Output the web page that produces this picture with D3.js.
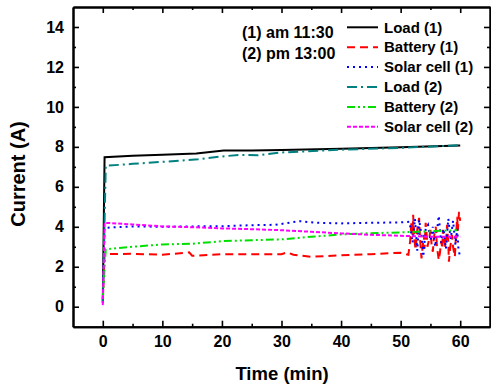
<!DOCTYPE html>
<html><head><meta charset="utf-8">
<script src="https://cdn.jsdelivr.net/npm/d3@7"></script>
<style>
body{margin:0;background:#fff;}
text{font-family:"Liberation Sans",Arial,sans-serif;font-weight:bold;fill:#000;}
</style></head>
<body><svg id="c" width="491" height="386"></svg>
<script>
// ---- data ----
const seriesNames = ["Load (1)","Battery (1)","Solar cell (1)","Load (2)","Battery (2)","Solar cell (2)"];
const xTicks = [0,10,20,30,40,50,60];
const yTicks = [0,2,4,6,8,10,12,14];
const annotations = ["(1) am 11:30","(2) pm 13:00"];

const load1 = [[0,0.3],[0.3,7.48],[5,7.55],[10,7.6],[15.7,7.67],[20.3,7.82],[25,7.82],[30,7.84],[40,7.9],[50,7.98],[60,8.07]];
const battery1 = [[0,0.3],[0.3,2.63],[5,2.65],[10,2.6],[14.5,2.72],[15,2.55],[20,2.63],[25,2.63],[30,2.63],[31,2.72],[32,2.6],[35,2.5],[40,2.57],[45,2.63],[50,2.7],[51.3,2.6],
  [51.6,3.3],[51.8,4.2],[52.0,3.6],[52.1,4.6],[52.3,3.4],[52.5,2.85],[52.8,3.9],[53.1,4.45],[53.3,3.2],[53.5,2.42],[53.7,3.0],[53.9,3.6],[54.0,2.9],[54.2,4.2],[54.4,3.5],[54.5,3.0],[54.8,3.4],[55,3.85],[55.2,3.1],[55.4,2.75],[55.6,3.5],[55.9,4.0],[56.1,3.0],[56.4,2.33],[56.6,2.7],[56.8,3.3],[57.0,2.9],[57.1,3.85],[57.3,3.4],[57.5,3.0],[57.7,3.6],[57.8,4.1],[58.0,3.2],[58.1,2.25],[58.3,2.9],[58.6,3.6],[58.8,3.0],[59.1,2.5],[59.3,3.6],[59.5,4.5],[59.6,3.8],[59.8,4.75],[60,4.3]];
const solar1 = [[0,0.2],[0.3,3.95],[5,4.02],[10,4.0],[15,4.02],[20,4.03],[25,4.08],[29,4.1],[33,4.28],[36,4.2],[40,4.17],[45,4.2],[50,4.22],[51.5,4.25],
  [52,3.2],[52.4,4.4],[52.8,2.8],[53.1,4.35],[53.5,3.6],[53.8,2.5],[54.2,3.9],[54.6,4.1],[55,3.3],[55.4,4.0],[55.8,3.0],[56.4,4.55],[56.8,3.2],[57.2,3.9],[57.6,2.9],[58,4.4],[58.4,3.4],[58.8,4.3],[59.2,3.1],[59.5,3.9],[59.7,2.9],[60,2.45]];
const load2 = [[0,0.2],[0.5,7.05],[5,7.15],[10,7.25],[16,7.38],[20,7.52],[23,7.6],[26,7.58],[30,7.72],[40,7.86],[50,7.95],[60,8.08]];
const battery2 = [[0,0.4],[0.5,2.88],[5,3.0],[10,3.12],[15,3.15],[20,3.28],[25,3.33],[30,3.37],[35,3.5],[40,3.62],[45,3.68],[50,3.72],[55,3.78],[59.5,3.83]];
const solar2 = [[0,0.08],[0.3,4.2],[5,4.12],[10,4.02],[15,3.98],[20,3.92],[25,3.88],[30,3.83],[35,3.75],[40,3.67],[45,3.6],[50,3.55],[55,3.5],[60,3.5]];

const seriesData = [load1,battery1,solar1,load2,battery2,solar2];
const colors = ["#000000","#ff0000","#0000ff","#008080","#00e000","#ff00ff"];
const dashes = ["none","8,5","2,4","10,4,2,4","8,3,2,3,2,3","4,2"];

// ---- layout ----
const svg = d3.select("#c");
const L=73, R=490, T=7, B=326.7;
const x = d3.scaleLinear().domain([-5,65]).range([L,R]);
const y = d3.scaleLinear().domain([-1,15]).range([B,T]);

// series
const line = d3.line().x(d=>x(d[0])).y(d=>y(d[1]));
seriesData.forEach((s,i)=>{
  svg.append("path").datum(s).attr("d",line).attr("fill","none")
    .attr("stroke",colors[i]).attr("stroke-width",2)
    .attr("stroke-dasharray",dashes[i]);
});

// axes
function styleAxis(g){
  g.selectAll("path.domain").attr("stroke","#000").attr("stroke-width",2);
  g.selectAll(".tick line").attr("stroke","#000").attr("stroke-width",1.6);
  g.selectAll("text").attr("font-size",16).attr("font-family","Liberation Sans, Arial, sans-serif").attr("font-weight","bold").attr("fill","#000");
}
const xMinor = d3.range(-5,66,5).filter(v=>!xTicks.includes(v) && v>-5 && v<65);
const yMinor = d3.range(-1,15.1,1).filter(v=>!yTicks.includes(v) && v>-1 && v<15);

svg.append("g").attr("transform",`translate(0,${B})`)
  .call(d3.axisBottom(x).tickValues(xTicks).tickSize(-6).tickSizeOuter(0).tickPadding(9)).call(styleAxis);
svg.append("g").attr("transform",`translate(0,${B})`)
  .call(d3.axisBottom(x).tickValues(xMinor).tickSize(-3).tickSizeOuter(0).tickFormat("")).call(styleAxis);
svg.append("g").attr("transform",`translate(0,${T})`)
  .call(d3.axisTop(x).tickValues(xTicks).tickSize(-6).tickSizeOuter(0).tickFormat("")).call(styleAxis);
svg.append("g").attr("transform",`translate(0,${T})`)
  .call(d3.axisTop(x).tickValues(xMinor).tickSize(-3).tickSizeOuter(0).tickFormat("")).call(styleAxis);
svg.append("g").attr("transform",`translate(${L},0)`)
  .call(d3.axisLeft(y).tickValues(yTicks).tickSize(-6).tickSizeOuter(0).tickPadding(9)).call(styleAxis);
svg.append("g").attr("transform",`translate(${L},0)`)
  .call(d3.axisLeft(y).tickValues(yMinor).tickSize(-3).tickSizeOuter(0).tickFormat("")).call(styleAxis);
svg.append("g").attr("transform",`translate(${R},0)`)
  .call(d3.axisRight(y).tickValues(yTicks).tickSize(-6).tickSizeOuter(0).tickFormat("")).call(styleAxis);
svg.append("g").attr("transform",`translate(${R},0)`)
  .call(d3.axisRight(y).tickValues(yMinor).tickSize(-3).tickSizeOuter(0).tickFormat("")).call(styleAxis);

// axis titles
svg.append("text").attr("x",282).attr("y",380).attr("text-anchor","middle").attr("font-size",18.5).text("Time (min)");
svg.append("text").attr("transform","translate(25,174) rotate(-90)").attr("text-anchor","middle").attr("font-size",20).text("Current (A)");

// annotations
annotations.forEach((a,i)=>{
  svg.append("text").attr("x",242).attr("y",32+i*21).attr("dy","0.35em").attr("font-size",16).text(a);
});

// legend
seriesNames.forEach((n,i)=>{
  const yy = 27.3 + i*19.9;
  svg.append("line").attr("x1",347).attr("x2",378).attr("y1",yy).attr("y2",yy)
    .attr("stroke",colors[i]).attr("stroke-width",2).attr("stroke-dasharray",dashes[i]);
  svg.append("text").attr("x",384).attr("y",yy).attr("dy","0.35em").attr("font-size",15).text(n);
});
</script></body></html>
